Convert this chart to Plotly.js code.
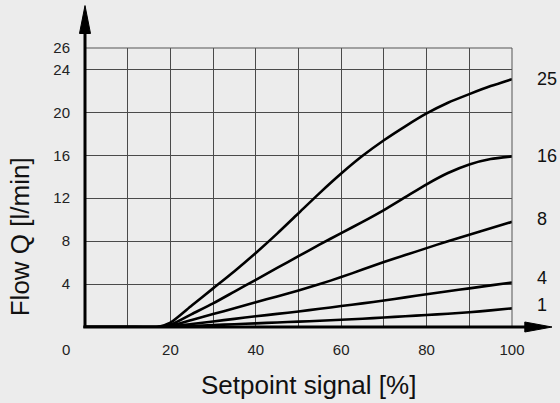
<!DOCTYPE html>
<html>
<head>
<meta charset="utf-8">
<script src="https://cdn.plot.ly/plotly-3.0.1.min.js"></script>
<style>html,body{margin:0;padding:0;background:#ececec;}#chart{width:560px;height:403px;}</style>
</head>
<body>
<div id="chart"></div>
<script>
// Setpoint signal [%]
var setpoint = [0, 10, 17, 20, 25, 30, 35, 40, 45, 50, 55, 60, 65, 70, 75, 80, 85, 90, 95, 100];
// Flow Q [l/min] for each curve
var flow25 = [0, 0, 0, 0.4, 2.0, 3.6, 5.2, 6.9, 8.7, 10.6, 12.5, 14.3, 15.95, 17.4, 18.7, 19.9, 20.9, 21.7, 22.45, 23.1];
var flow16 = [0, 0, 0, 0.2, 1.2, 2.2, 3.3, 4.4, 5.5, 6.6, 7.7, 8.75, 9.8, 10.9, 12.1, 13.3, 14.35, 15.15, 15.65, 15.9];
var flow8  = [0, 0, 0, 0.1, 0.65, 1.2, 1.75, 2.3, 2.85, 3.4, 4.0, 4.65, 5.35, 6.05, 6.7, 7.35, 8.0, 8.6, 9.2, 9.8];
var flow4  = [0, 0, 0, 0.05, 0.28, 0.52, 0.76, 1.0, 1.22, 1.45, 1.7, 1.95, 2.2, 2.47, 2.76, 3.05, 3.33, 3.6, 3.88, 4.15];
var flow1  = [0, 0, 0, 0.02, 0.1, 0.18, 0.26, 0.34, 0.42, 0.5, 0.58, 0.67, 0.77, 0.88, 1.0, 1.12, 1.24, 1.37, 1.55, 1.74];
var curveNames = ['25', '16', '8', '4', '1'];
var curves = [flow25, flow16, flow8, flow4, flow1];

var xTickVals = [10, 20, 30, 40, 50, 60, 70, 80, 90, 100];
var xTickText = ['', '20', '', '40', '', '60', '', '80', '', '100'];
var yTickVals = [4, 8, 12, 16, 20, 24, 26];
var yTickText = ['4', '8', '12', '16', '20', '24', '26'];

var labelShift = [0, 0, 3, 4, 3];

var font = 'Liberation Sans, Arial, Helvetica, sans-serif';
var traces = curves.map(function (c, i) {
  return {
    x: setpoint, y: c, type: 'scatter', mode: 'lines', name: curveNames[i],
    line: {color: '#000', width: 2.6, shape: 'spline', smoothing: 0.6},
    cliponaxis: false, hoverinfo: 'skip'
  };
});

var annotations = curves.map(function (c, i) {
  return {
    x: 100, y: c[c.length - 1], xref: 'x', yref: 'y', text: curveNames[i],
    showarrow: false, xanchor: 'left', yanchor: 'middle', xshift: 23, yshift: labelShift[i],
    font: {family: font, size: 18, color: '#111'}
  };
});
annotations.push({
  x: 0, y: 0, xref: 'x', yref: 'y', text: '0', showarrow: false,
  xanchor: 'center', yanchor: 'middle', xshift: -19.5, yshift: -22.5,
  font: {family: font, size: 15, color: '#222'}
});
annotations.push({
  x: 0.523, y: -0.207, xref: 'paper', yref: 'paper', text: 'Setpoint signal [%]', showarrow: false,
  xanchor: 'center', yanchor: 'middle', font: {family: font, size: 26, color: '#111'}
});
annotations.push({
  x: -0.153, y: 0.324, xref: 'paper', yref: 'paper', text: 'Flow Q [l/min]', showarrow: false,
  textangle: -90, xanchor: 'center', yanchor: 'middle', font: {family: font, size: 26, color: '#111'}
});

var shapes = [
  // frame top / right (grid colour)
  {type: 'line', xref: 'paper', yref: 'paper', x0: 0, x1: 1, y0: 1, y1: 1, line: {color: '#555', width: 1}},
  {type: 'line', xref: 'paper', yref: 'paper', x0: 1, x1: 1, y0: 0, y1: 1, line: {color: '#555', width: 1}},
  // y axis with arrow
  {type: 'line', xref: 'paper', yref: 'paper', x0: 0, x1: 0, y0: -0.004, y1: 1.06, line: {color: '#000', width: 3}},
  {type: 'path', xref: 'paper', yref: 'paper', path: 'M -0.0129 1.052 L 0.0129 1.052 L 0 1.152 Z', fillcolor: '#000', line: {color: '#000', width: 1}},
  // x axis with arrow
  {type: 'line', xref: 'paper', yref: 'paper', x0: -0.004, x1: 1.035, y0: 0, y1: 0, line: {color: '#000', width: 3}},
  {type: 'path', xref: 'paper', yref: 'paper', path: 'M 1.030 -0.0179 L 1.030 0.0179 L 1.0937 0 Z', fillcolor: '#000', line: {color: '#000', width: 1}}
];

var layout = {
  width: 560, height: 403,
  margin: {l: 85, r: 48, t: 47.5, b: 76},
  paper_bgcolor: '#ececec', plot_bgcolor: '#ececec',
  showlegend: false,
  font: {family: font, color: '#222'},
  xaxis: {
    range: [0, 100], tickmode: 'array', tickvals: xTickVals, ticktext: xTickText,
    showgrid: true, gridcolor: '#4a4a4a', gridwidth: 1, zeroline: false, showline: false,
    ticks: '', ticklabelstandoff: 12, tickfont: {family: font, size: 15, color: '#222'},
    fixedrange: true
  },
  yaxis: {
    range: [0, 26], tickmode: 'array', tickvals: yTickVals, ticktext: yTickText,
    showgrid: true, gridcolor: '#4a4a4a', gridwidth: 1, zeroline: false, showline: false,
    ticks: '', ticklabelstandoff: 14, tickfont: {family: font, size: 15, color: '#222'},
    fixedrange: true
  },
  shapes: shapes,
  annotations: annotations
};

Plotly.newPlot('chart', traces, layout, {displayModeBar: false, staticPlot: true});
</script>
</body>
</html>
